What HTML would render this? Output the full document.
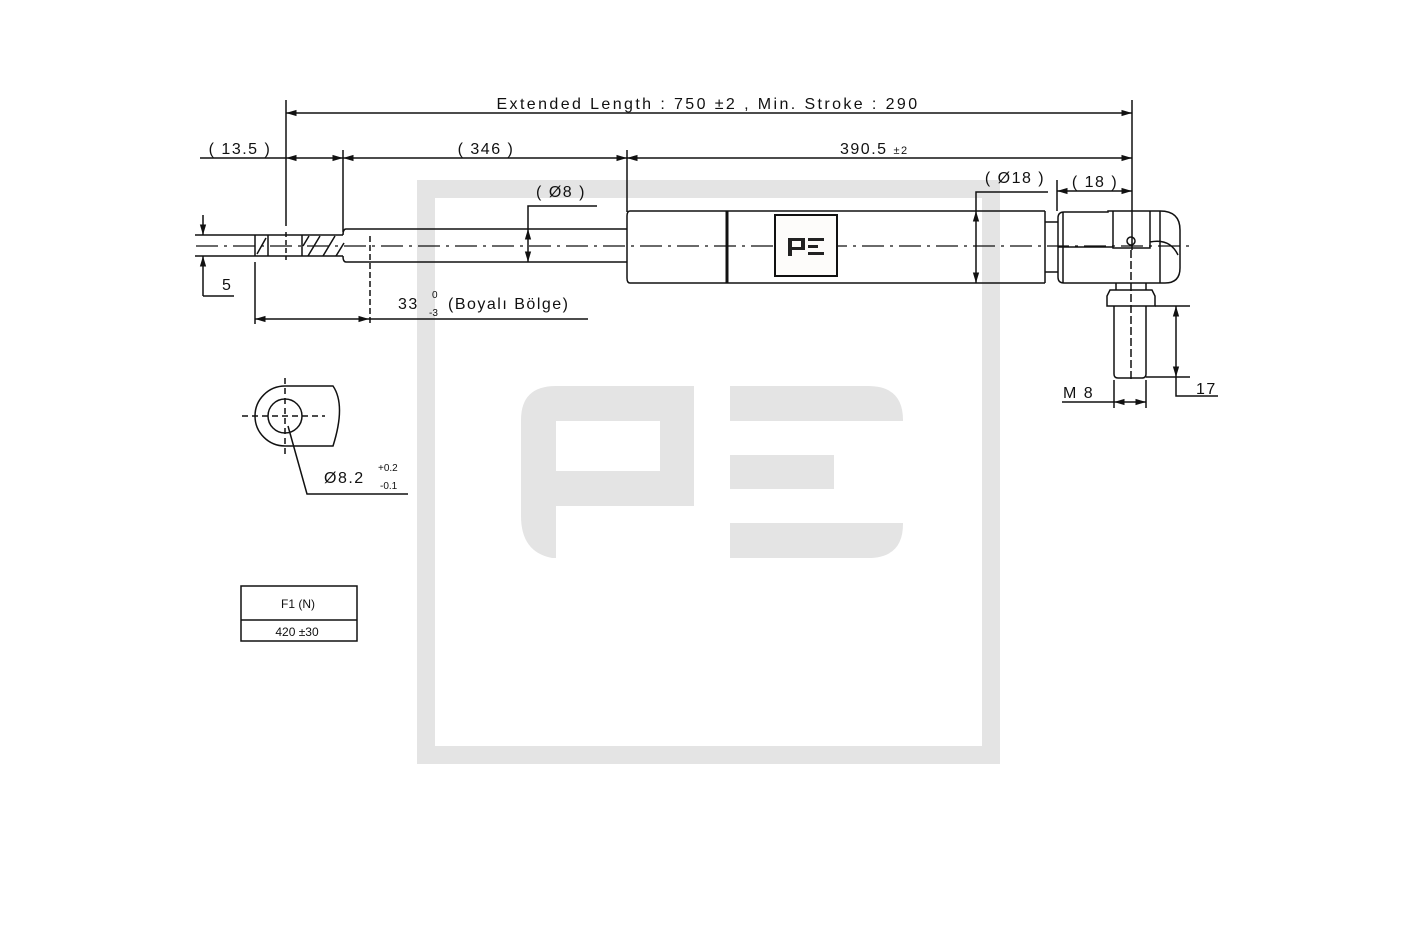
<!DOCTYPE html>
<html><head><meta charset="utf-8"><style>
html,body{margin:0;padding:0;background:#fff;}
svg{display:block;}
text{font-family:"Liberation Sans",sans-serif;fill:#111;}
</style></head><body>
<svg width="1417" height="945" viewBox="0 0 1417 945" xmlns="http://www.w3.org/2000/svg">
<defs>
<marker id="a" viewBox="0 0 10 10" refX="10" refY="5" markerWidth="7" markerHeight="7" orient="auto-start-reverse"><path d="M0,2 L10,5 L0,8z" fill="#111"/></marker>
</defs>
<g fill="#e4e4e4">
<path d="M417,180 H1000 V764 H417 Z M435,198 V746 H982 V198 Z" fill-rule="evenodd"/>
<path d="M556,386 H694 V506 H556 V558 H552 Q521,552 521,516 V420 Q521,386 556,386 Z M556,421 V471 H660 V421 Z" fill-rule="evenodd"/>
<path d="M730,386 H868 Q903,386 903,420 V421 H730 Z"/>
<rect x="730" y="455" width="104" height="34"/>
<path d="M730,523 H903 V524 Q903,558 868,558 H730 Z"/>
</g>
<g stroke="#111" stroke-width="1.5" fill="none">
<line x1="286" y1="100" x2="286" y2="226"/>
<line x1="1132" y1="100" x2="1132" y2="250"/>
<line x1="286" y1="113" x2="1132" y2="113" marker-start="url(#a)" marker-end="url(#a)"/>
<line x1="200" y1="158" x2="286" y2="158"/>
<line x1="286" y1="158" x2="343" y2="158" marker-start="url(#a)" marker-end="url(#a)"/>
<line x1="343" y1="150" x2="343" y2="232"/>
<line x1="343" y1="158" x2="627" y2="158" marker-start="url(#a)" marker-end="url(#a)"/>
<line x1="627" y1="150" x2="627" y2="212"/>
<line x1="627" y1="158" x2="1132" y2="158" marker-start="url(#a)" marker-end="url(#a)"/>
<line x1="195" y1="235" x2="343" y2="235"/>
<line x1="195" y1="256" x2="343" y2="256"/>
<line x1="255" y1="235" x2="255" y2="256"/>
<line x1="268" y1="235" x2="268" y2="256"/>
<line x1="302" y1="235" x2="302" y2="256"/>
<path d="M257,254 L266,238 M303,246 L309,236 M308,256 L320,236 M323,256 L335,236 M336,256 L344,243"/>
<line x1="286" y1="232" x2="286" y2="260" stroke-dasharray="5,3"/>
<line x1="203" y1="215" x2="203" y2="235" marker-end="url(#a)"/>
<line x1="203" y1="296" x2="203" y2="256" marker-end="url(#a)"/>
<line x1="203" y1="296" x2="234" y2="296"/>
<path d="M346,229 H627 M346,262 H627 M346,229 Q343,229 343,235 M343,256 Q343,262 346,262"/>
<line x1="370" y1="236" x2="370" y2="324" stroke-dasharray="6,3"/>
<line x1="255" y1="262" x2="255" y2="324"/>
<line x1="255" y1="319" x2="369" y2="319" marker-start="url(#a)" marker-end="url(#a)"/>
<line x1="369" y1="319" x2="588" y2="319"/>
<path d="M597,206 H528 V229"/>
<line x1="528" y1="229" x2="528" y2="262" marker-start="url(#a)" marker-end="url(#a)"/>
<path d="M630,211 H1045 M630,283 H1045 M630,211 Q627,211 627,216 V278 Q627,283 630,283"/>
<line x1="727" y1="211" x2="727" y2="283" stroke-width="3"/>
<line x1="1045" y1="211" x2="1045" y2="283"/>
<path d="M1048,192 H976 V211"/>
<line x1="976" y1="211" x2="976" y2="283" marker-start="url(#a)" marker-end="url(#a)"/>
<path d="M1045,222 H1058 M1045,272 H1058"/>
<line x1="1057" y1="180" x2="1057" y2="211"/>
<line x1="1057" y1="191" x2="1132" y2="191" marker-start="url(#a)" marker-end="url(#a)"/>
<path d="M1064,212 H1108 V211 H1160 Q1180,211 1180,230 V268 Q1180,283 1165,283 H1064 Q1058,283 1058,277 V218 Q1058,212 1064,212 Z"/>
<path d="M1063,212 V283 M1113,211 V248 H1150 V211 M1160,211 V283 M1058,247 H1113 M1150,242 Q1170,238 1178,255"/>
<circle cx="1131" cy="241" r="4"/>
<path d="M1116,283 V290 M1146,283 V290"/>
<path d="M1110,290 H1152 L1155,296 V306 H1107 V296 Z"/>
<path d="M1114,306 V374 Q1114,378 1118,378 H1142 Q1146,378 1146,374 V306"/>
<line x1="1131" y1="250" x2="1131" y2="380" stroke-dasharray="8,3"/>
<line x1="1155" y1="306" x2="1190" y2="306"/>
<line x1="1146" y1="377" x2="1190" y2="377"/>
<line x1="1176" y1="306" x2="1176" y2="377" marker-start="url(#a)" marker-end="url(#a)"/>
<path d="M1176,377 V396 H1218"/>
<line x1="1114" y1="380" x2="1114" y2="408"/>
<line x1="1146" y1="380" x2="1146" y2="408"/>
<line x1="1062" y1="402" x2="1114" y2="402"/>
<line x1="1114" y1="402" x2="1146" y2="402" marker-start="url(#a)" marker-end="url(#a)"/>
<line x1="196" y1="246" x2="1195" y2="246" stroke-dasharray="22,6,3,6" stroke-width="1.2"/>
<path d="M285,386 H333 Q346,405 333,446 H285 A30,30 0 0 1 285,386 Z"/>
<circle cx="285" cy="416" r="17"/>
<line x1="242" y1="416" x2="325" y2="416" stroke-dasharray="6,4"/>
<line x1="285" y1="378" x2="285" y2="455" stroke-dasharray="6,4"/>
<path d="M288,426 L307,494 H408"/>
<rect x="241" y="586" width="116" height="55"/>
<line x1="241" y1="620" x2="357" y2="620"/>
</g>
<rect x="775" y="215" width="62" height="61" fill="#fdfcfa" stroke="#111" stroke-width="2"/>
<g fill="#222">
<path d="M788,238 H805 V250 H792 V256 H788 Z M792,241 V247 H801 V241 Z" fill-rule="evenodd"/>
<rect x="808" y="238" width="16" height="3"/><rect x="808" y="245" width="10" height="3"/><rect x="808" y="252" width="16" height="3"/>
</g>
<g font-size="16" letter-spacing="1.5">
<text x="708" y="109" text-anchor="middle" letter-spacing="2.4">Extended Length : 750 ±2 ,  Min. Stroke : 290</text>
<text x="240" y="154" text-anchor="middle">( 13.5 )</text>
<text x="486" y="154" text-anchor="middle">( 346 )</text>
<text x="840" y="154">390.5 <tspan font-size="11">±2</tspan></text>
<text x="561" y="197" text-anchor="middle">( Ø8 )</text>
<text x="1015" y="183" text-anchor="middle">( Ø18 )</text>
<text x="1095" y="187" text-anchor="middle">( 18 )</text>
<text x="222" y="290">5</text>
<text x="398" y="309">33</text>
<text x="448" y="309">(Boyalı Bölge)</text>
<text x="1063" y="398">M 8</text>
<text x="1196" y="394">17</text>
<text x="324" y="483">Ø8.2</text>
</g>
<g font-size="10">
<text x="432" y="298">0</text><text x="429" y="316">-3</text>
<text x="378" y="471">+0.2</text><text x="380" y="489">-0.1</text>
</g>
<g font-size="12">
<text x="298" y="608" text-anchor="middle">F1 (N)</text>
<text x="297" y="636" text-anchor="middle">420 ±30</text>
</g>
</svg>
</body></html>
